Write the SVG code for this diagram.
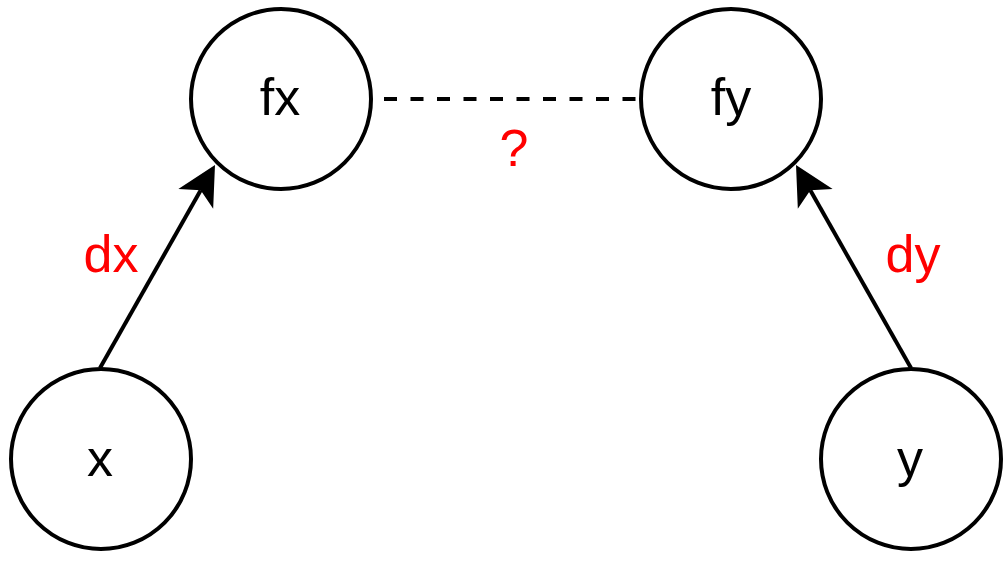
<svg xmlns="http://www.w3.org/2000/svg" width="1007" height="567" viewBox="0 0 1007 567">
  <style>
    .node circle { fill: #ffffff; stroke: #000000; stroke-width: 4; }
    .lbl { font-family: "Liberation Sans", Arial, sans-serif; font-size: 52px; text-anchor: middle; fill: #000000; }
    .red { fill: #ff0000; }
    .edge { fill: none; stroke: #000000; stroke-width: 4; }
    .dash { stroke-dasharray: 13 13.5; }
  </style>
  <defs>
    <marker id="arrow" markerUnits="userSpaceOnUse" orient="auto" viewBox="-42 -23 44 46" markerWidth="44" markerHeight="46" refX="-29" refY="0">
      <path d="M0,0 L-39,-20 L-29,0 L-39,20 Z" fill="#000000"/>
    </marker>
  </defs>
  <rect width="1007" height="567" fill="#ffffff"/>
  <g id="connectors">
    <path class="edge" d="M100,368 L200.7,190.2" marker-end="url(#arrow)"/>
    <path class="edge" d="M911,368 L810.3,190.2" marker-end="url(#arrow)"/>
    <path class="edge dash" d="M384,99 L640,99"/>
    <text class="lbl red" x="111" y="272">dx</text>
    <text class="lbl red" x="913" y="272">dy</text>
    <text class="lbl red" x="514" y="166">?</text>
  </g>
  <g id="node-fx" class="node">
    <circle cx="281" cy="99" r="90"/>
    <text class="lbl" x="280" y="115">fx</text>
  </g>
  <g id="node-fy" class="node">
    <circle cx="731" cy="99" r="90"/>
    <text class="lbl" x="731" y="115">fy</text>
  </g>
  <g id="node-x" class="node">
    <circle cx="101" cy="459" r="90"/>
    <text class="lbl" x="100" y="476">x</text>
  </g>
  <g id="node-y" class="node">
    <circle cx="911" cy="459" r="90"/>
    <text class="lbl" x="910" y="476">y</text>
  </g>
</svg>
